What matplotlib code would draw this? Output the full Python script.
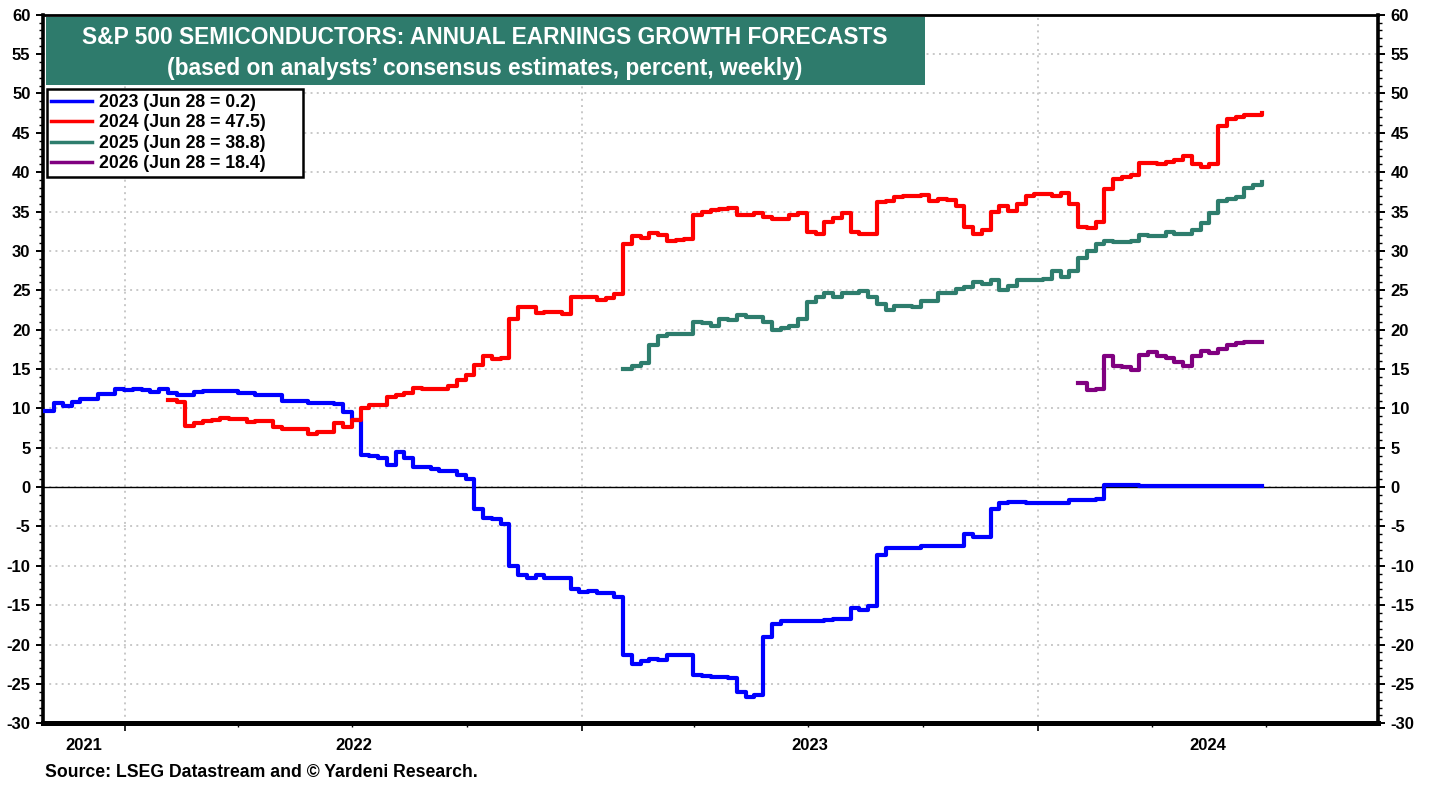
import pandas as pd
import matplotlib
matplotlib.use('Agg')
import matplotlib.pyplot as plt
import matplotlib.dates as mdates
from matplotlib.ticker import MultipleLocator, NullFormatter
from matplotlib.patches import Rectangle
import matplotlib.transforms as mtransforms

# weekly consensus forecasts, stored as the weeks where the value changes
blue_dates = ['2021-10-29', '2021-11-05', '2021-11-12', '2021-11-19', '2021-11-26', '2021-12-10',
              '2021-12-24', '2021-12-31', '2022-01-07', '2022-01-14', '2022-01-21', '2022-01-28',
              '2022-02-04', '2022-02-11', '2022-02-25', '2022-03-04', '2022-04-01', '2022-04-08',
              '2022-04-15', '2022-05-06', '2022-05-27', '2022-06-17', '2022-06-24', '2022-07-01',
              '2022-07-08', '2022-07-15', '2022-07-22', '2022-07-29', '2022-08-05', '2022-08-12',
              '2022-08-19', '2022-09-02', '2022-09-09', '2022-09-23', '2022-09-30', '2022-10-07',
              '2022-10-14', '2022-10-21', '2022-10-28', '2022-11-04', '2022-11-11', '2022-11-18',
              '2022-11-25', '2022-12-02', '2022-12-09', '2022-12-23', '2022-12-30', '2023-01-06',
              '2023-01-13', '2023-01-27', '2023-02-03', '2023-02-10', '2023-02-17', '2023-02-24',
              '2023-03-03', '2023-03-10', '2023-03-31', '2023-04-07', '2023-04-14', '2023-04-28',
              '2023-05-05', '2023-05-12', '2023-05-19', '2023-05-26', '2023-06-02', '2023-06-09',
              '2023-07-14', '2023-07-21', '2023-08-04', '2023-08-11', '2023-08-18', '2023-08-25',
              '2023-09-01', '2023-09-29', '2023-11-03', '2023-11-10', '2023-11-24', '2023-12-01',
              '2023-12-08', '2023-12-22', '2024-01-26', '2024-02-16', '2024-02-23', '2024-03-22']
blue_vals = [9.7, 10.7, 10.3, 10.8, 11.2, 11.8,
             12.5, 12.3, 12.5, 12.3, 12.1, 12.45,
             11.9, 11.7, 12.1, 12.2, 11.9, 12.0,
             11.7, 11.0, 10.7, 10.5, 9.6, 8.5,
             4.1, 3.9, 3.7, 2.8, 4.4, 3.7,
             2.5, 2.25, 2.0, 1.6, 1.0, -2.8,
             -3.9, -4.1, -4.7, -10.0, -11.2, -11.5,
             -11.2, -11.5, -11.6, -12.9, -13.3, -13.2,
             -13.4, -13.9, -21.3, -22.5, -22.1, -21.8,
             -21.9, -21.3, -23.8, -24.0, -24.1, -24.3,
             -26.0, -26.6, -26.4, -19.0, -17.4, -17.0,
             -16.9, -16.7, -15.4, -15.6, -15.1, -8.6,
             -7.7, -7.5, -5.9, -6.3, -2.8, -2.0,
             -1.9, -2.05, -1.65, -1.45, 0.3, 0.2]

red_dates = ['2022-02-04', '2022-02-11', '2022-02-18', '2022-02-25', '2022-03-04', '2022-03-11',
             '2022-03-18', '2022-03-25', '2022-04-08', '2022-04-15', '2022-04-29', '2022-05-06',
             '2022-05-27', '2022-06-03', '2022-06-17', '2022-06-24', '2022-07-01', '2022-07-08',
             '2022-07-15', '2022-07-29', '2022-08-05', '2022-08-12', '2022-08-19', '2022-08-26',
             '2022-09-16', '2022-09-23', '2022-09-30', '2022-10-07', '2022-10-14', '2022-10-21',
             '2022-10-28', '2022-11-04', '2022-11-11', '2022-11-25', '2022-12-02', '2022-12-16',
             '2022-12-23', '2022-12-30', '2023-01-13', '2023-01-20', '2023-01-27', '2023-02-03',
             '2023-02-10', '2023-02-17', '2023-02-24', '2023-03-03', '2023-03-10', '2023-03-17',
             '2023-03-24', '2023-03-31', '2023-04-07', '2023-04-14', '2023-04-21', '2023-04-28',
             '2023-05-05', '2023-05-19', '2023-05-26', '2023-06-02', '2023-06-16', '2023-06-23',
             '2023-06-30', '2023-07-07', '2023-07-14', '2023-07-21', '2023-07-28', '2023-08-04',
             '2023-08-11', '2023-08-25', '2023-09-01', '2023-09-08', '2023-09-15', '2023-09-29',
             '2023-10-06', '2023-10-13', '2023-10-20', '2023-10-27', '2023-11-03', '2023-11-10',
             '2023-11-17', '2023-11-24', '2023-12-01', '2023-12-08', '2023-12-15', '2023-12-22',
             '2023-12-29', '2024-01-12', '2024-01-19', '2024-01-26', '2024-02-02', '2024-02-09',
             '2024-02-16', '2024-02-23', '2024-03-01', '2024-03-08', '2024-03-15', '2024-03-22',
             '2024-04-05', '2024-04-12', '2024-04-19', '2024-04-26', '2024-05-03', '2024-05-10',
             '2024-05-17', '2024-05-24', '2024-05-31', '2024-06-07', '2024-06-14', '2024-06-28']
red_vals = [11.05, 10.8, 7.75, 8.2, 8.4, 8.5,
            8.8, 8.6, 8.3, 8.4, 7.7, 7.4,
            6.8, 7.0, 8.1, 7.6, 8.5, 10.0,
            10.4, 11.5, 11.7, 12.0, 12.6, 12.5,
            12.9, 13.6, 14.2, 15.5, 16.6, 16.3,
            16.4, 21.4, 22.9, 22.1, 22.2, 22.0,
            24.1, 24.2, 23.8, 24.0, 24.5, 30.9,
            31.9, 31.6, 32.3, 32.0, 31.2, 31.4,
            31.5, 34.6, 34.9, 35.2, 35.3, 35.5,
            34.6, 34.8, 34.3, 34.1, 34.6, 34.8,
            32.4, 32.2, 33.7, 34.2, 34.8, 32.4,
            32.1, 36.2, 36.4, 36.8, 37.0, 37.1,
            36.3, 36.6, 36.5, 35.7, 33.1, 32.1,
            32.7, 34.9, 35.7, 35.1, 36.0, 37.0,
            37.2, 37.0, 37.3, 36.0, 33.1, 32.9,
            33.7, 37.9, 39.1, 39.4, 39.6, 41.2,
            41.0, 41.3, 41.5, 42.0, 41.1, 40.6,
            41.0, 45.9, 46.8, 47.0, 47.3, 47.5]

green_dates = ['2023-02-03', '2023-02-10', '2023-02-17', '2023-02-24', '2023-03-03', '2023-03-10',
               '2023-03-31', '2023-04-07', '2023-04-14', '2023-04-21', '2023-04-28', '2023-05-05',
               '2023-05-12', '2023-05-26', '2023-06-02', '2023-06-09', '2023-06-16', '2023-06-23',
               '2023-06-30', '2023-07-07', '2023-07-14', '2023-07-21', '2023-07-28', '2023-08-11',
               '2023-08-18', '2023-08-25', '2023-09-01', '2023-09-08', '2023-09-22', '2023-09-29',
               '2023-10-13', '2023-10-27', '2023-11-03', '2023-11-10', '2023-11-17', '2023-11-24',
               '2023-12-01', '2023-12-08', '2023-12-15', '2024-01-05', '2024-01-12', '2024-01-19',
               '2024-01-26', '2024-02-02', '2024-02-09', '2024-02-16', '2024-02-23', '2024-03-01',
               '2024-03-15', '2024-03-22', '2024-03-29', '2024-04-12', '2024-04-19', '2024-04-26',
               '2024-05-03', '2024-05-10', '2024-05-17', '2024-05-24', '2024-05-31', '2024-06-07',
               '2024-06-14', '2024-06-21', '2024-06-28']
green_vals = [15.0, 15.4, 15.8, 18.1, 19.2, 19.4,
              21.0, 20.9, 20.5, 21.4, 21.2, 21.8,
              21.6, 21.0, 20.0, 20.2, 20.5, 21.4,
              23.5, 24.1, 24.7, 24.2, 24.6, 24.9,
              24.1, 23.3, 22.5, 23.0, 22.9, 23.6,
              24.6, 25.2, 25.4, 26.0, 25.8, 26.3,
              25.1, 25.5, 26.3, 26.4, 27.4, 26.7,
              27.4, 29.1, 30.0, 30.9, 31.3, 31.1,
              31.3, 32.0, 31.9, 32.4, 32.2, 32.1,
              32.7, 33.5, 34.8, 36.3, 36.6, 36.9,
              37.95, 38.4, 38.8]

purple_dates = ['2024-02-02', '2024-02-09', '2024-02-16', '2024-02-23', '2024-03-01', '2024-03-08',
                '2024-03-15', '2024-03-22', '2024-03-29', '2024-04-05', '2024-04-12', '2024-04-19',
                '2024-04-26', '2024-05-03', '2024-05-10', '2024-05-17', '2024-05-24', '2024-05-31',
                '2024-06-07', '2024-06-14', '2024-06-28']
purple_vals = [13.25, 12.3, 12.4, 16.6, 15.4, 15.2,
               14.9, 16.8, 17.1, 16.7, 16.35, 15.9,
               15.4, 16.7, 17.3, 17.0, 17.5, 18.0,
               18.25, 18.4, 18.4]

labels = ['2023 (Jun 28 = 0.2)', '2024 (Jun 28 = 47.5)', '2025 (Jun 28 = 38.8)', '2026 (Jun 28 = 18.4)']
colors = ['#0000ff', '#ff0000', '#2e7d6d', '#800080']

weeks = pd.date_range('2021-10-29', '2024-06-28', freq='W-FRI')


def weekly(dates, vals):
    s = pd.Series(vals, index=pd.to_datetime(dates))
    full = s.reindex(s.index.union(weeks)).ffill()
    return full[full.index.isin(weeks) & (full.index >= s.index[0])]


plt.rcParams['font.family'] = ['Liberation Sans', 'DejaVu Sans']
plt.rcParams['font.weight'] = 'bold'
plt.rcParams['axes.unicode_minus'] = False

fig = plt.figure(figsize=(14.36, 7.87), dpi=100)
ax = fig.add_axes([0.0299, 0.0809, 0.9299, 0.9004])

series = [weekly(blue_dates, blue_vals), weekly(red_dates, red_vals),
          weekly(green_dates, green_vals), weekly(purple_dates, purple_vals)]
for s, c, lab in zip(series, colors, labels):
    ax.plot(s.index, s.values, color=c, lw=3.0, label=lab, drawstyle='steps-post', zorder=3)

x0, x1 = pd.Timestamp('2021-10-27'), pd.Timestamp('2024-09-29')
ax.set_xlim(x0, x1)
ax.set_ylim(-30, 60)

ax.axhline(0, color='black', lw=1.0, zorder=2)

# grid
ax.yaxis.set_major_locator(MultipleLocator(5))
ax.yaxis.set_minor_locator(MultipleLocator(1))
ax.xaxis.set_major_locator(mdates.YearLocator())
ax.xaxis.set_minor_locator(mdates.MonthLocator(bymonth=[4, 7, 10]))
ax.xaxis.set_major_formatter(NullFormatter())
ax.grid(True, which='major', color='#c8c8c8', lw=1.4, ls=(0, (1, 2.2)), zorder=1)

ax.tick_params(axis='y', which='major', length=5, width=1.4, labelsize=12,
               right=True, labelright=True, pad=4)
ax.tick_params(axis='y', which='minor', length=3, width=1.0, right=True)
ax.tick_params(axis='x', which='major', length=6, width=1.2)
ax.tick_params(axis='x', which='minor', length=3, width=1.0)

for side, w in [('left', 2.6), ('right', 2.6), ('bottom', 3.6), ('top', 2.0)]:
    ax.spines[side].set_linewidth(w)

# year labels centred on the visible part of each year
trans = mtransforms.blended_transform_factory(ax.transData, ax.transAxes)
for yr in [2021, 2022, 2023, 2024]:
    lo = max(pd.Timestamp(f'{yr}-01-01'), x0)
    hi = min(pd.Timestamp(f'{yr + 1}-01-01'), x1)
    mid = lo + (hi - lo) / 2
    ax.text(mid, -0.031, str(yr), transform=trans, ha='center', va='center',
            fontsize=12, fontweight='bold')

# title box
ax.add_patch(Rectangle((0.002, 0.9008), 0.6585, 0.0964, transform=ax.transAxes,
                       facecolor='#2e7b6c', edgecolor='none', zorder=5))
ax.text(0.331, 0.9685, 'S&P 500 SEMICONDUCTORS: ANNUAL EARNINGS GROWTH FORECASTS',
        transform=ax.transAxes, ha='center', va='center', color='white',
        fontsize=16.4, fontweight='bold', zorder=6)
ax.text(0.331, 0.9248, '(based on analysts\u2019 consensus estimates, percent, weekly)',
        transform=ax.transAxes, ha='center', va='center', color='white',
        fontsize=16.4, fontweight='bold', zorder=6)

# legend box (wider than the legend's own frame)
ax.add_patch(Rectangle((0.0028, 0.7714), 0.1917, 0.1233, transform=ax.transAxes,
                       facecolor='white', edgecolor='black', lw=1.8, zorder=5))
leg = ax.legend(loc='upper left', bbox_to_anchor=(0.0028, 0.8947), borderaxespad=0,
                frameon=False, fontsize=12.7,
                handlelength=2.3, handletextpad=0.4, labelspacing=0.2,
                borderpad=0.25)
leg.set_zorder(6)
for line in leg.get_lines():
    line.set_linewidth(2.5)

fig.text(0.0313, 0.0178, 'Source: LSEG Datastream and \u00a9 Yardeni Research.',
         ha='left', va='center', fontsize=12.7, fontweight='bold')

fig.savefig('out.png', dpi=100)
